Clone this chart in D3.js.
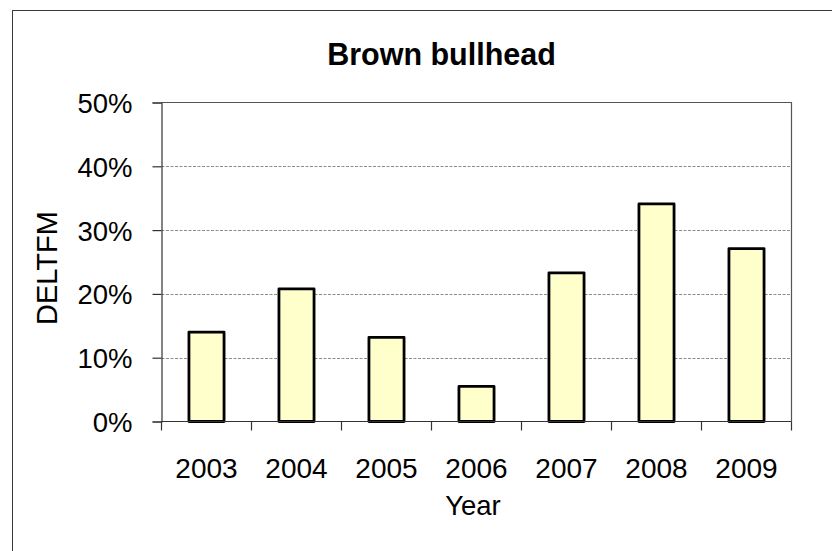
<!DOCTYPE html>
<html>
<head>
<meta charset="utf-8">
<script src="https://cdn.jsdelivr.net/npm/d3@7/dist/d3.min.js"></script>
<style>
  html, body { margin: 0; padding: 0; background: #fff; }
  svg { display: block; }
  text { font-family: "Liberation Sans", Arial, sans-serif; fill: #000; }
</style>
</head>
<body>
<svg id="chart" width="832" height="551"></svg>
<script>
// Brown bullhead DELTFM by year
const years = ["2003", "2004", "2005", "2006", "2007", "2008", "2009"];
const deltfm = [0.140, 0.208, 0.132, 0.055, 0.233, 0.341, 0.271];
const yTicks = [0, 0.1, 0.2, 0.3, 0.4, 0.5];
const title = "Brown bullhead";
const xTitle = "Year";
const yTitle = "DELTFM";

const svg = d3.select("#chart");

// outer chart frame (runs off the right and bottom edges)
svg.append("rect")
  .attr("x", 12.5).attr("y", 10.5)
  .attr("width", 900).attr("height", 600)
  .attr("fill", "#fff").attr("stroke", "#3a3a3a").attr("stroke-width", 1);

const plot = { left: 161.5, right: 791.5, top: 102.5, bottom: 421.5 };

const x = d3.scaleBand()
  .domain(years)
  .range([plot.left, plot.right])
  .paddingInner(0.61)
  .paddingOuter(0.305);

const y = d3.scaleLinear()
  .domain([0, 0.5])
  .range([plot.bottom, plot.top]);

// dashed gridlines
svg.append("g")
  .selectAll("line")
  .data(yTicks.filter(d => d > 0 && d < 0.5))
  .join("line")
  .attr("x1", plot.left).attr("x2", plot.right)
  .attr("y1", d => Math.round(y(d)) + 0.5).attr("y2", d => Math.round(y(d)) + 0.5)
  .attr("stroke", "#8c8c8c").attr("stroke-width", 1)
  .attr("stroke-dasharray", "3,1.5");

// plot area top and right border
svg.append("path")
  .attr("d", `M${plot.left},${plot.top}H${plot.right}V${plot.bottom}`)
  .attr("fill", "none").attr("stroke", "#555").attr("stroke-width", 1.2);

// bars
svg.append("g")
  .selectAll("rect")
  .data(years.map((yr, i) => ({ yr, v: deltfm[i] })))
  .join("rect")
  .attr("x", d => x(d.yr))
  .attr("y", d => y(d.v))
  .attr("width", x.bandwidth())
  .attr("height", d => y(0) - y(d.v))
  .attr("fill", "#ffffcc")
  .attr("stroke", "#000")
  .attr("stroke-width", 2.8)
  .attr("stroke-linejoin", "round");

// y axis
const yAxis = d3.axisLeft(y)
  .tickValues(yTicks)
  .tickFormat(d3.format(".0%"))
  .tickSize(9)
  .tickPadding(20);
const gy = svg.append("g")
  .attr("transform", `translate(${plot.left},0)`)
  .call(yAxis);
gy.select(".domain").attr("stroke", "#333").attr("stroke-width", 1.2);
gy.selectAll(".tick line").attr("stroke", "#333").attr("stroke-width", 1.2);
gy.selectAll(".tick text")
  .attr("font-size", 27.5)
  .attr("font-family", "Liberation Sans, Arial, sans-serif")
  .attr("dy", "0.36em");

// x axis: ticks at category boundaries
const boundaries = years.map(yr => x(yr) - x.step() * x.paddingInner() / 2)
  .concat([plot.right]);
svg.append("line")
  .attr("x1", plot.left).attr("x2", plot.right)
  .attr("y1", plot.bottom).attr("y2", plot.bottom)
  .attr("stroke", "#333").attr("stroke-width", 1.2);
svg.append("g")
  .selectAll("line")
  .data(boundaries)
  .join("line")
  .attr("x1", d => d).attr("x2", d => d)
  .attr("y1", plot.bottom).attr("y2", plot.bottom + 9)
  .attr("stroke", "#333").attr("stroke-width", 1.2);
svg.append("g")
  .selectAll("text")
  .data(years)
  .join("text")
  .attr("x", d => x(d) + x.bandwidth() / 2)
  .attr("y", 477.5)
  .attr("text-anchor", "middle")
  .attr("font-size", 28)
  .text(d => d);

// titles
svg.append("text")
  .attr("x", 441.5).attr("y", 65)
  .attr("text-anchor", "middle")
  .attr("font-size", 30.5).attr("font-weight", "bold")
  .text(title);

svg.append("text")
  .attr("x", 473).attr("y", 515)
  .attr("text-anchor", "middle")
  .attr("font-size", 27.5)
  .text(xTitle);

svg.append("text")
  .attr("transform", "translate(56.5,268) rotate(-90)")
  .attr("text-anchor", "middle")
  .attr("font-size", 29)
  .text(yTitle);
</script>
</body>
</html>
